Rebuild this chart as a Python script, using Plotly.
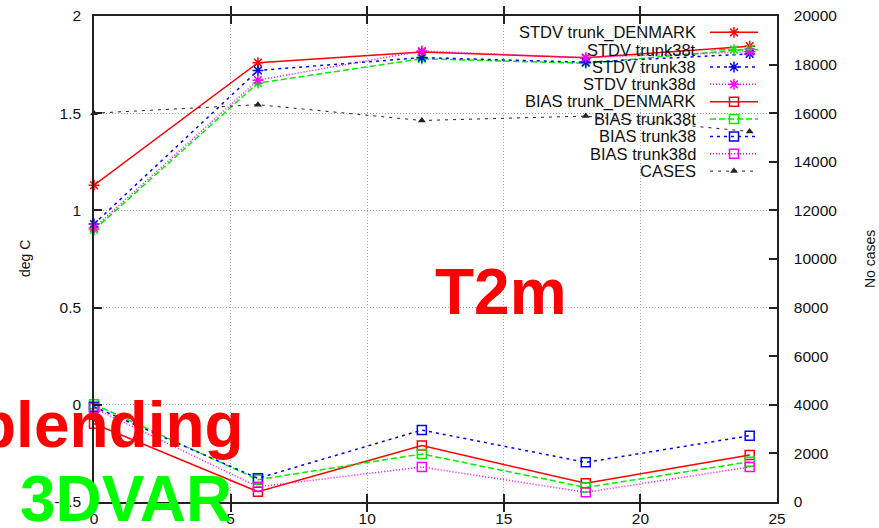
import plotly.graph_objects as go

# ---- data ----
lead_hours = [0, 6, 12, 18, 24]
stdv_trunk_denmark = [1.13, 1.76, 1.815, 1.785, 1.845]
stdv_trunk38t = [0.90, 1.655, 1.78, 1.757, 1.83]
stdv_trunk38 = [0.93, 1.72, 1.786, 1.762, 1.805]
stdv_trunk38d = [0.91, 1.67, 1.82, 1.786, 1.816]
bias_trunk_denmark = [-0.097, -0.447, -0.21, -0.404, -0.258]
bias_trunk38t = [0.003, -0.385, -0.253, -0.425, -0.293]
bias_trunk38 = [-0.01, -0.378, -0.13, -0.296, -0.159]
bias_trunk38d = [-0.017, -0.422, -0.32, -0.45, -0.32]
cases = [16000, 16350, 15700, 15880, 15250]

y_tickvals = [-0.5, 0, 0.5, 1, 1.5, 2]
y_ticktext = ["-0.5", "0", "0.5", "1", "1.5", "2"]
x_tickvals = [0, 5, 10, 15, 20, 25]
y2_tickvals = [0, 2000, 4000, 6000, 8000, 10000, 12000, 14000, 16000, 18000, 20000]
y2_ticktext = [str(v) for v in y2_tickvals]

series = [
    ("STDV trunk_DENMARK", stdv_trunk_denmark, "#ff0000", "solid", "asterisk-open", "y"),
    ("STDV trunk38t", stdv_trunk38t, "#00ee00", "6px,3px", "asterisk-open", "y"),
    ("STDV trunk38", stdv_trunk38, "#0000ff", "3px,4px", "asterisk-open", "y"),
    ("STDV trunk38d", stdv_trunk38d, "#ff00ff", "1px,2px", "asterisk-open", "y"),
    ("BIAS trunk_DENMARK", bias_trunk_denmark, "#ff0000", "solid", "square-open", "y"),
    ("BIAS trunk38t", bias_trunk38t, "#00ee00", "6px,3px", "square-open", "y"),
    ("BIAS trunk38", bias_trunk38, "#0000ff", "3px,4px", "square-open", "y"),
    ("BIAS trunk38d", bias_trunk38d, "#ff00ff", "1px,2px", "square-open", "y"),
    ("CASES", cases, "#222222", "3px,5px", "triangle-up", "y2"),
]

W, H = 879, 528
L, R, T, B = 94, 102, 16, 26
PW, PH = W - L - R, H - T - B


def px_x(p):
    return (p - L) / PW


def px_y(p):
    return (H - B - p) / PH


fig = go.Figure()

for name, vals, col, dash, sym, ax in series:
    is_tri = sym.startswith("triangle")
    fig.add_trace(go.Scatter(
        x=lead_hours, y=vals, name=name, yaxis=ax,
        mode="lines+markers",
        line=dict(color=col, width=1 if is_tri else 1.5, dash=dash),
        marker=dict(symbol=sym, size=7 if is_tri else 9, color=col,
                    line=dict(color=col, width=0 if is_tri else 1.5)),
        showlegend=False, cliponaxis=False,
    ))

# ---- gnuplot-style key: text on the left, sample on the right ----
row0, row_step = 32.3, 17.35
text_right = 698
samp_x1, samp_x2 = 710, 758
annotations = []
for i, (name, vals, col, dash, sym, ax) in enumerate(series):
    yr = px_y(row0 + i * row_step)
    is_tri = sym.startswith("triangle")
    fig.add_trace(go.Scatter(
        x=[px_x(samp_x1), px_x(samp_x2)], y=[yr, yr], xaxis="x3", yaxis="y3",
        mode="lines", line=dict(color=col, width=1 if is_tri else 1.5, dash=dash),
        showlegend=False, hoverinfo="skip", cliponaxis=False))
    fig.add_trace(go.Scatter(
        x=[px_x((samp_x1 + samp_x2) / 2)], y=[yr], xaxis="x3", yaxis="y3",
        mode="markers",
        marker=dict(symbol=sym, size=7 if is_tri else 9, color=col,
                    line=dict(color=col, width=0 if is_tri else 1.5)),
        showlegend=False, hoverinfo="skip", cliponaxis=False))
    annotations.append(dict(
        text=name, xref="paper", yref="paper", x=px_x(text_right), y=yr,
        xanchor="right", yanchor="middle", showarrow=False,
        font=dict(family="Liberation Sans, Arial", size=16.5, color="#111")))

# axis titles
annotations.append(dict(text="deg C", xref="paper", yref="paper", x=px_x(25), y=0.5,
                        textangle=-90, showarrow=False, xanchor="center", yanchor="middle",
                        font=dict(family="Liberation Sans, Arial", size=14, color="#111")))
annotations.append(dict(text="No cases", xref="paper", yref="paper", x=px_x(870), y=0.5,
                        textangle=-90, showarrow=False, xanchor="center", yanchor="middle",
                        font=dict(family="Liberation Sans, Arial", size=14, color="#111")))

# overlay labels
big = dict(family="Liberation Sans, Arial", size=64)
annotations.append(dict(text="<b>T2m</b>", xref="paper", yref="paper", x=px_x(501), y=px_y(292),
                        showarrow=False, xanchor="center", yanchor="middle",
                        font=dict(big, color="#ff0000")))
annotations.append(dict(text="<b>blending</b>", xref="paper", yref="paper", x=px_x(246), y=px_y(425),
                        showarrow=False, xanchor="right", yanchor="middle",
                        font=dict(big, color="#ff0000")))
annotations.append(dict(text="<b>3DVAR</b>", xref="paper", yref="paper", x=px_x(18), y=px_y(499),
                        showarrow=False, xanchor="left", yanchor="middle",
                        font=dict(big, color="#00ff00")))

tickfont = dict(family="Liberation Sans, Arial", size=15.5, color="#111")
grid = dict(showgrid=True, gridcolor="#aaaaaa", gridwidth=1, griddash="1px,2px")

fig.update_layout(
    width=W, height=H,
    margin=dict(l=L, r=R, t=T, b=B, autoexpand=False),
    paper_bgcolor="white", plot_bgcolor="white",
    showlegend=False,
    xaxis=dict(range=[0, 25], tickvals=x_tickvals, ticks="inside", ticklen=8, tickwidth=1.5,
               tickcolor="#222", showline=True, linecolor="#222", linewidth=1.5,
               mirror="allticks", zeroline=False, tickfont=tickfont, ticklabelstandoff=2, **grid),
    yaxis=dict(range=[-0.5, 2], tickvals=y_tickvals, ticktext=y_ticktext, ticks="inside",
               ticklen=8, tickwidth=1.5, tickcolor="#222", showline=True, linecolor="#222",
               linewidth=1.5, zeroline=False, tickfont=tickfont, ticklabelstandoff=8, **grid),
    yaxis2=dict(range=[0, 20000], tickvals=y2_tickvals, ticktext=y2_ticktext, overlaying="y",
                side="right", ticks="inside", ticklen=8, tickwidth=1.5, tickcolor="#222",
                showline=True, linecolor="#222", linewidth=1.5, zeroline=False, showgrid=False,
                tickfont=tickfont, ticklabelstandoff=12),
    xaxis3=dict(range=[0, 1], overlaying="x", visible=False),
    yaxis3=dict(range=[0, 1], overlaying="y", visible=False),
    shapes=[dict(type="rect", xref="paper", yref="paper", layer="between",
                 x0=px_x(503), x1=px_x(776), y0=px_y(180), y1=px_y(17),
                 fillcolor="white", line=dict(width=0))],
    annotations=annotations,
)

fig.write_html("out.html")
